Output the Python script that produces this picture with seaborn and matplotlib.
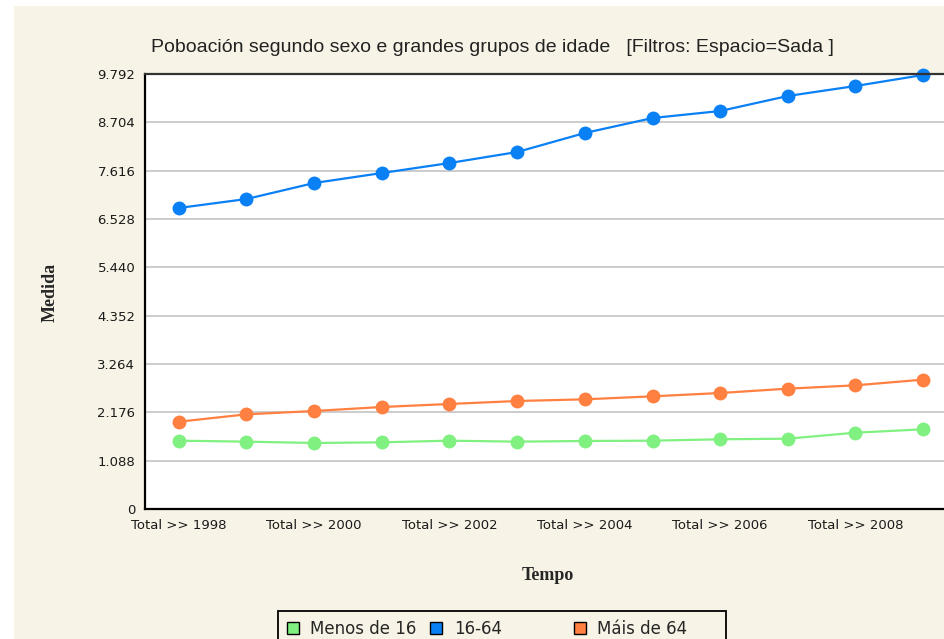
import matplotlib
matplotlib.use("Agg")
import matplotlib.pyplot as plt
from matplotlib.lines import Line2D
from matplotlib.patches import Rectangle
import seaborn as sns
import pandas as pd

years = list(range(1998, 2010))
tick_labels = ["Total >> %d" % y if y % 2 == 0 else "" for y in years]
menos_16 = [1538, 1516, 1486, 1501, 1538, 1516, 1531, 1538, 1569, 1583, 1718, 1794]
de_16_64 = [6776, 6978, 7338, 7563, 7788, 8036, 8464, 8801, 8959, 9297, 9522, 9770]
mais_64 = [1965, 2131, 2206, 2296, 2364, 2431, 2469, 2536, 2611, 2709, 2784, 2912]
series_names = ["Menos de 16", "16-64", "Máis de 64"]
y_ticks = [0, 1088, 2176, 3264, 4352, 5440, 6528, 7616, 8704, 9792]
y_tick_labels = ["0", "1.088", "2.176", "3.264", "4.352", "5.440", "6.528", "7.616", "8.704", "9.792"]
colors = ["#80f080", "#0a80f5", "#ff8040"]

rows = []
for name, vals in zip(series_names, [menos_16, de_16_64, mais_64]):
    for i, v in enumerate(vals):
        rows.append({"pos": i, "valor": v, "serie": name})
df = pd.DataFrame(rows)

sns.set_style("white")
bg = "#f7f3e6"
fig = plt.figure(figsize=(9.45, 6.39), dpi=100, facecolor="white")
fig.patches.append(Rectangle((14 / 945, 0), 1, 1 - 6 / 639, transform=fig.transFigure,
                             facecolor=bg, edgecolor="none", zorder=-10))

ax = fig.add_axes([145 / 945, 130 / 639, 812 / 945, 435 / 639])
ax.set_facecolor("white")

sns.lineplot(data=df, x="pos", y="valor", hue="serie", palette=colors,
             hue_order=series_names, marker="o", markersize=10, markeredgewidth=0,
             linewidth=1.6, legend=False, ax=ax, clip_on=False)

ax.set_xlim(-0.5, 11.5)
ax.set_ylim(0, 9792)
ax.set_yticks(y_ticks)
ax.set_yticklabels(y_tick_labels, fontsize=9.5, color="#1a1a1a")
ax.set_xticks(range(len(years)))
ax.set_xticklabels(tick_labels, fontsize=9.5, color="#1a1a1a")
ax.tick_params(axis="both", direction="out", length=5, width=1.2, color="black", pad=2)
for t in y_ticks[1:-1]:
    ax.axhline(t, color="#c8c8c8", linewidth=1.3, zorder=0)
for side in ["left", "bottom", "top"]:
    ax.spines[side].set_color("black")
    ax.spines[side].set_linewidth(1.6)
ax.spines["top"].set_color("#333333")
ax.spines["right"].set_visible(False)
ax.set_xlabel("")
ax.set_ylabel("")

fig.text(492 / 945, 1 - 47 / 639, "Poboación segundo sexo e grandes grupos de idade   [Filtros: Espacio=Sada ]",
         ha="center", va="center", fontsize=14, family="Liberation Sans", color="#222222")
fig.text(50 / 945, 1 - 292 / 639, "Medida", rotation=90, ha="center", va="center",
         fontsize=13, fontweight="bold", family="Liberation Serif")
fig.text(548 / 945, 1 - 575 / 639, "Tempo", ha="center", va="center",
         fontsize=13, fontweight="bold", family="Liberation Serif")

handles = [Line2D([], [], linestyle="none", marker="s", markersize=8, markerfacecolor=c,
                  markeredgecolor="black", markeredgewidth=1) for c in colors]
leg = fig.legend(handles, series_names, loc="upper left", bbox_to_anchor=(278 / 945, 1 - 611 / 639),
                 ncol=3, frameon=True, fancybox=False, edgecolor="black", facecolor=bg, framealpha=1,
                 fontsize=12, handlelength=0.7, handletextpad=0.7, columnspacing=0.82,
                 borderpad=0.55, borderaxespad=0)
leg.get_frame().set_linewidth(1.3)
leg._legend_handle_box.mode = "equal"

fig.savefig("out.png", dpi=100, facecolor=fig.get_facecolor())
